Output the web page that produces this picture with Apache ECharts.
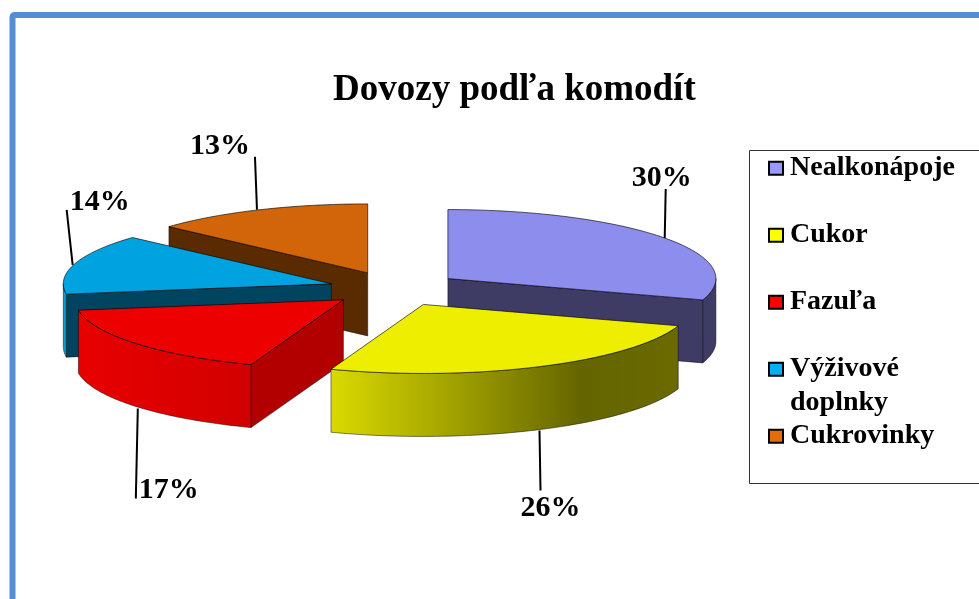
<!DOCTYPE html>
<html><head><meta charset="utf-8">
<style>html,body{margin:0;padding:0;background:#fff}#c{width:979px;height:599px}</style>
<script src="https://cdn.jsdelivr.net/npm/echarts@6/dist/echarts.min.js"></script>
</head><body><div id="c"></div>
<script>
const titleText = 'Dovozy podľa komodít';
const categories = ['Nealkonápoje', 'Cukor', 'Fazuľa', 'Výživové doplnky', 'Cukrovinky'];
const percents = [30, 25.6, 17, 14.1, 13.3];

// styling and layout, kept apart from the values
const legendColors = ['#9999ff', '#ffff00', '#ff0000', '#00b0f0', '#e46c0a'];
const topColors = ['#8d8ded', '#eeee00', '#ec0000', '#00a2e0', '#d2640a'];
const sideColors = ['#3e3b65', '#5f5f00', '#b20000', '#00445f', '#5a2a00'];
const drawOrder = [4, 0, 3, 2, 1];
const FONT = '"Liberation Serif","Times New Roman",serif';
const CX = 394.5, CY = 288.8, RX = 268, RY = 69, DEPTH = 63, EX = 66, EY = 17.4;
const leaderStart = [[0, 0], [-1, 1], [2, 2], [-2, 1], [-2, 0]];
const leaderEnd = [[1, -49], [0, 61], [0, 92], [-8, -54], [-4, -53]];
const labelPos = [[-3, -60], [10, 79], [33, 84], [25, -62], [-39, -64]];

const total = percents.reduce((a, b) => a + b, 0);
const rad = d => d * Math.PI / 180;

function renderSlice(i) {
  const before = percents.slice(0, i).reduce((a, b) => a + b, 0);
  const a0 = before / total * 360, a1 = (before + percents[i]) / total * 360, mid = (a0 + a1) / 2;
  const ax = CX + EX * Math.sin(rad(mid)), ay = CY - EY * Math.cos(rad(mid));
  const at = a => [ax + RX * Math.sin(rad(a)), ay - RY * Math.cos(rad(a))];
  const down = p => [p[0], p[1] + DEPTH];
  const arc = (s, e) => { const n = 72, o = []; for (let k = 0; k <= n; k++) o.push(at(s + (e - s) * k / n)); return o; };
  const kids = [];
  const edge = { stroke: 'rgba(0,0,0,0.6)', lineWidth: 0.8 };
  const poly = (points, fill, st) => kids.push({ type: 'polygon', silent: true, shape: { points }, style: Object.assign({ fill }, st || edge) });

  // radial wall that faces the viewer
  [[a0, a0 - 90], [a1, a1 + 90]].forEach(([a, n]) => {
    if (Math.cos(rad(n)) < -1e-6) {
      const p = at(a), c = [ax, ay];
      poly([c, p, down(p), down(c)], sideColors[i]);
    }
  });
  // outer curved wall on the front half
  const s = Math.max(a0, 90), e = Math.min(a1, 270);
  if (s < e) {
    const t = arc(s, e);
    let fill = sideColors[i];
    const xs = t.map(p => p[0]), x0 = Math.min(...xs), x1 = Math.max(...xs);
    const grad = stops => ({ type: 'linear', x: x0, y: 0, x2: x1, y2: 0, global: true, colorStops: stops });
    if (i === 1) fill = grad([{ offset: 0, color: '#dada00' }, { offset: 0.72, color: '#656500' }, { offset: 1, color: '#6a6a00' }]);
    if (i === 2) fill = grad([{ offset: 0, color: '#e80000' }, { offset: 1, color: '#d20000' }]);
    if (i === 3) fill = '#0a9ad2';
    poly(t.concat(t.map(down).reverse()), fill);
  }
  // top surface
  poly([[ax, ay]].concat(arc(a0, a1)), topColors[i], { stroke: 'rgba(0,0,0,0.7)', lineWidth: 0.9 });

  // leader and percent label
  const an = at(mid), base = (mid > 90 && mid < 270) ? down(an) : an;
  const st = [base[0] + leaderStart[i][0], base[1] + leaderStart[i][1]];
  kids.push({ type: 'polyline', silent: true, shape: { points: [st, [base[0] + leaderEnd[i][0], base[1] + leaderEnd[i][1]]] }, style: { stroke: '#000', lineWidth: 2, fill: 'none' } });
  kids.push({ type: 'text', silent: true, x: base[0] + labelPos[i][0], y: base[1] + labelPos[i][1], style: { text: Math.round(percents[i]) + '%', font: 'bold 30px ' + FONT, fill: '#000', align: 'center', verticalAlign: 'middle' } });
  return { type: 'group', children: kids };
}

const chart = echarts.init(document.getElementById('c'), null, { renderer: 'canvas' });
chart.setOption({
  animation: false,
  backgroundColor: '#fff',
  title: { text: titleText, left: 328, top: 67, textStyle: { fontFamily: FONT, fontWeight: 'bold', fontSize: 37, color: '#000' } },
  legend: {
    orient: 'vertical', left: 768, top: 116, icon: 'rect', itemWidth: 14, itemHeight: 13, itemGap: -37.5, padding: 0, selectedMode: false,
    itemStyle: { borderColor: '#000', borderWidth: 2 },
    data: categories.map((c, i) => ({ name: c, itemStyle: { color: legendColors[i] } })),
    formatter: n => ' \n' + n.split(' ').join('\n') + (n.includes(' ') ? '' : '\n '),
    textStyle: { fontFamily: FONT, fontWeight: 'bold', fontSize: 28, lineHeight: 33.5, color: '#000', padding: [4, 0, 0, 2] }
  },
  graphic: [
    { type: 'rect', z: -10, silent: true, shape: { x: 12.5, y: 15, width: 1100, height: 800, r: 2 }, style: { fill: '#fff', stroke: '#558ed5', lineWidth: 6 } },
    { type: 'rect', z: -9, silent: true, shape: { x: 749.5, y: 150.5, width: 400, height: 333 }, style: { fill: '#fff', stroke: '#333', lineWidth: 1 } }
  ],
  series: drawOrder.map(i => ({
    type: 'custom', name: categories[i], coordinateSystem: 'none', silent: true, clip: false,
    data: [[percents[i]]],
    renderItem: () => renderSlice(i)
  }))
});
</script></body></html>
